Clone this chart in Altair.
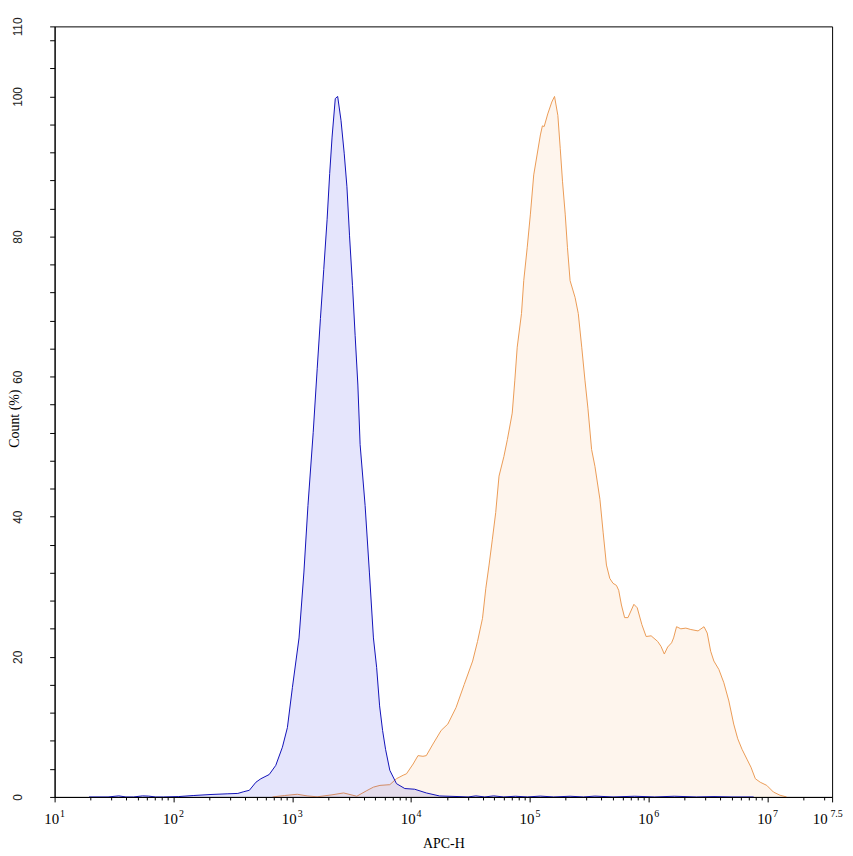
import math
import altair as alt
import pandas as pd

# ---- data (x = log10(APC-H), y = Count %) ----
blue_log = [1.29, 1.45, 1.54, 1.60, 1.665, 1.74, 1.79, 1.85, 1.916, 2.041, 2.166, 2.316, 2.458,
            2.542, 2.592, 2.639, 2.694, 2.736, 2.806, 2.861, 2.917, 2.959, 3.001, 3.057,
            3.098, 3.132, 3.176, 3.210, 3.237, 3.265, 3.293, 3.315, 3.335, 3.362, 3.382,
            3.410, 3.437, 3.460, 3.482, 3.507, 3.529, 3.552, 3.571, 3.613, 3.649, 3.683,
            3.710, 3.735, 3.760, 3.785, 3.821, 3.877, 3.947, 4.030, 4.128, 4.239, 4.403,
            4.48, 4.545, 4.62, 4.695, 4.78, 4.879, 4.98, 5.087, 5.2, 5.338, 5.45, 5.547,
            5.7, 5.881, 6.05, 6.215, 6.4, 6.549, 6.7, 6.883]
blue_count = [0.0, 0.0, 0.15, 0.0, 0.0, 0.15, 0.12, 0.0, 0.0, 0.05, 0.2, 0.35, 0.45,
              0.5, 0.75, 0.95, 2.1, 2.6, 3.2, 4.5, 7.1, 9.9, 15.6, 22.7,
              32.1, 41.6, 52.0, 61.2, 68.3, 75.3, 82.4, 89.0, 94.2, 99.7, 100.0,
              96.6, 91.9, 87.1, 80.1, 73.0, 65.9, 58.8, 50.3, 41.6, 32.1, 22.7,
              18.5, 13.0, 9.5, 6.8, 3.8, 1.9, 1.2, 1.1, 0.57, 0.14, 0.05,
              0.0, 0.15, 0.0, 0.15, 0.0, 0.1, 0.0, 0.12, 0.0, 0.1, 0.0, 0.12,
              0.0, 0.1, 0.0, 0.1, 0.0, 0.05, 0.0, 0.0]

orange_log = [2.834, 2.934, 3.042, 3.125, 3.209, 3.334, 3.432, 3.543, 3.627, 3.683, 3.738,
              3.821, 3.877, 3.933, 3.961, 4.017, 4.058, 4.100, 4.128, 4.184, 4.253, 4.309,
              4.378, 4.447, 4.518, 4.559, 4.601, 4.629, 4.656, 4.684, 4.712, 4.740, 4.781,
              4.810, 4.851, 4.873, 4.893, 4.929, 4.948, 4.977, 5.004, 5.032, 5.088, 5.105,
              5.120, 5.150, 5.184, 5.207, 5.235, 5.255, 5.274, 5.297, 5.316, 5.338, 5.380,
              5.407, 5.436, 5.463, 5.488, 5.519, 5.547, 5.589, 5.616, 5.644, 5.672, 5.699,
              5.728, 5.747, 5.770, 5.797, 5.825, 5.875, 5.903, 5.942, 5.978, 6.020, 6.075,
              6.103, 6.131, 6.159, 6.192, 6.209, 6.234, 6.270, 6.312, 6.354, 6.415, 6.465,
              6.492, 6.521, 6.548, 6.590, 6.632, 6.674, 6.715, 6.749, 6.785, 6.826, 6.860,
              6.897, 6.938, 6.993, 7.049, 7.105, 7.160]
orange_count = [0.0, 0.2, 0.38, 0.15, 0.02, 0.3, 0.57, 0.1, 0.9, 1.4, 1.65,
                1.75, 2.6, 3.1, 3.3, 4.7, 5.9, 5.8, 5.9, 7.55, 9.5, 10.4,
                12.75, 16.05, 19.4, 22.2, 25.5, 29.8, 33.1, 36.8, 40.6, 45.8, 48.6,
                51.0, 54.8, 59.5, 64.2, 69.0, 73.7, 78.4, 83.2, 88.8, 94.5, 95.8,
                95.7, 97.5, 99.2, 100.0, 97.3, 92.6, 87.9, 83.2, 78.4, 73.7, 71.3,
                69.0, 64.2, 59.5, 55.5, 49.6, 47.2, 42.5, 37.8, 33.1, 31.2, 30.5,
                30.2, 29.5, 27.4, 25.6, 25.6, 27.5, 27.0, 24.6, 22.9, 23.0, 22.2,
                21.5, 20.4, 21.4, 22.0, 22.7, 24.3, 24.0, 24.1, 23.9, 23.7, 24.3,
                23.4, 20.8, 19.4, 18.2, 16.3, 13.7, 10.4, 8.3, 6.8, 5.4, 4.25,
                2.6, 2.1, 1.65, 0.7, 0.24, 0.0]

x_major = [1, 2, 3, 4, 5, 6, 7]
x_end = 7.543
x_tick_base = "10"
x_tick_exponents = ["1", "2", "3", "4", "5", "6", "7", "7.5"]
y_ticks = list(range(0, 110, 4)) + [110]
y_label_values = [0, 20, 40, 60, 80, 100, 110]

# ---- axis helpers ----
x_minor = [n + math.log10(k) for n in range(1, 8) for k in range(2, 10) if n + math.log10(k) < x_end]
x_values = sorted(x_major + [x_end] + x_minor)
x_label_pos = x_major + [x_end]
is_major = " || ".join(f"abs(datum.value - {v}) < 0.001" for v in x_label_pos)
exp_expr = "''"
for v, lab in reversed(list(zip(x_label_pos, x_tick_exponents))):
    exp_expr = f"abs(datum.value - {v}) < 0.001 ? '{lab}' : ({exp_expr})"
y_test = " || ".join(f"datum.value == {v}" for v in y_label_values)

blue_df = pd.DataFrame({"logx": blue_log, "count": blue_count})
orange_df = pd.DataFrame({"logx": orange_log, "count": orange_count})
exp_df = pd.DataFrame({"logx": x_label_pos})

X = alt.X("logx:Q",
          scale=alt.Scale(domain=[1, x_end], nice=False, zero=False),
          axis=alt.Axis(values=x_values, labelExpr=f"({is_major}) ? '{x_tick_base}' : ''", title="APC-H",
                        tickSize={"condition": {"test": f"{is_major}", "value": 5}, "value": 3},
                        labelOffset={"condition": {"test": "datum.value > 7.5", "value": -12.5}, "value": -3.5},
                        labelFont="Liberation Serif", labelFontSize=15, labelColor="black",
                        labelPadding=10, labelBaseline="top", labelFlush=False, labelOverlap=False,
                        titleFont="Liberation Serif", titleFontSize=14, titleFontWeight="normal",
                        titleColor="black", titleX=392, titleY=47, titleBaseline="middle",
                        titleAlign="center", zindex=1))
X_exp = alt.X("logx:Q",
              scale=alt.Scale(domain=[1, x_end], nice=False, zero=False),
              axis=alt.Axis(values=x_label_pos, labelExpr=exp_expr, title=None, orient="bottom",
                            ticks=False, tickSize=0, domain=False,
                            labelOffset={"condition": {"test": "datum.value > 7.5", "value": 4}, "value": 7.5},
                            labelFont="Liberation Serif", labelFontSize=10, labelColor="black",
                            labelPadding=12, labelBaseline="top", labelFlush=False, labelOverlap=False,
                            zindex=1))
Y = alt.Y("count:Q",
          scale=alt.Scale(domain=[0, 110], nice=False, zero=True),
          axis=alt.Axis(values=y_ticks, labelExpr=f"({y_test}) ? datum.label : ''",
                        tickSize=5, labelAngle=270, labelAlign="center", labelBaseline="middle",
                        labelPadding=32, labelFont="Liberation Sans", labelFontSize=12,
                        labelColor="#222", labelOverlap=False, labelFlush=False,
                        title="Count (%)", titleAngle=270, titleX=-40, titleY=395,
                        titleAlign="center", titleBaseline="middle",
                        titleFont="Liberation Serif", titleFontSize=14, titleFontWeight="normal",
                        titleColor="black", zindex=1))

orange_area = alt.Chart(orange_df).mark_area(color="#F5A04A", opacity=0.1, interpolate="linear").encode(x=X, y=Y)
orange_line = alt.Chart(orange_df).mark_line(color="#EB9B55", strokeWidth=1, interpolate="linear").encode(x=X, y=Y)
blue_area = alt.Chart(blue_df).mark_area(color="#0000E0", opacity=0.1, interpolate="linear").encode(x=X, y=Y)
blue_line = alt.Chart(blue_df).mark_line(color="#1010B8", strokeWidth=1, interpolate="linear").encode(x=X, y=Y)
curves = alt.layer(orange_area, orange_line, blue_area, blue_line)

exp_layer = alt.Chart(exp_df).mark_point(opacity=0, size=1).encode(x=X_exp, y=alt.value(0))

chart = alt.layer(curves, exp_layer).resolve_scale(x="independent").properties(
    width=784, height=777,
    autosize=alt.AutoSizeParams(type="none"),
    padding={"left": 47, "top": 15, "right": 13, "bottom": 54},
    background="white",
).configure_view(stroke="black", strokeWidth=1).configure_axis(
    grid=False, domainColor="black", tickColor="black", domainWidth=1, tickWidth=1
)

chart.save("out.html", embed_options={"renderer": "svg", "actions": False})
